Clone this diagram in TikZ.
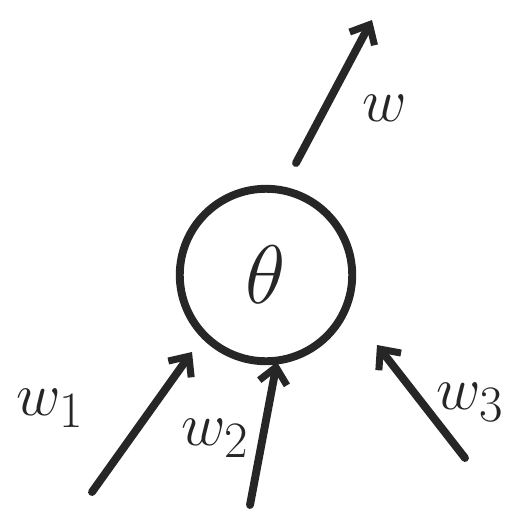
\documentclass[tikz,border=0pt]{standalone}
\usepackage{amsmath}
\usetikzlibrary{arrows.meta}
\tikzset{
  neuron/.style={circle, draw, line width=4.5pt, minimum size=3.45cm, inner sep=0pt},
  peso/.style={line width=4.5pt, line cap=round, -{Straight Barb[length=9pt,width=16pt,line width=4pt]}},
  etichetta/.style={font=\Huge, scale=1.4}
}
\begin{document}
\begin{tikzpicture}[x=0.02cm, y=-0.02cm, color=black!85]
        \useasboundingbox (0,0) rectangle (528,515);
        % nodo centrale
        \node[neuron] (theta) at (266,275) {};
        \node[font=\Huge, scale=1.9] (thetatxt) at (theta.center) {$\theta$};
        % estremi liberi delle frecce
        \coordinate (out0) at (296,163);
        \coordinate (out1) at (372,20);
        \coordinate (in1) at (92,492);
        \coordinate (in2) at (250,505);
        \coordinate (in3) at (465,458);
        \coordinate (end1) at (192,352);
        \coordinate (end2) at (277,362);
        \coordinate (end3) at (377,345);
        % frecce
        \draw[peso] (out0) -- (out1);
        \draw[peso] (in1) -- (end1);
        \draw[peso] (in2) -- (end2);
        \draw[peso] (in3) -- (end3);
        % etichette pesi
        \node[etichetta] (lw) at (385,108) {$w$};
        \node[etichetta] (lw1) at (50,408) {$w_1$};
        \node[etichetta] (lw2) at (215,438) {$w_2$};
        \node[etichetta] (lw3) at (470,402) {$w_3$};
\end{tikzpicture}
\end{document}
